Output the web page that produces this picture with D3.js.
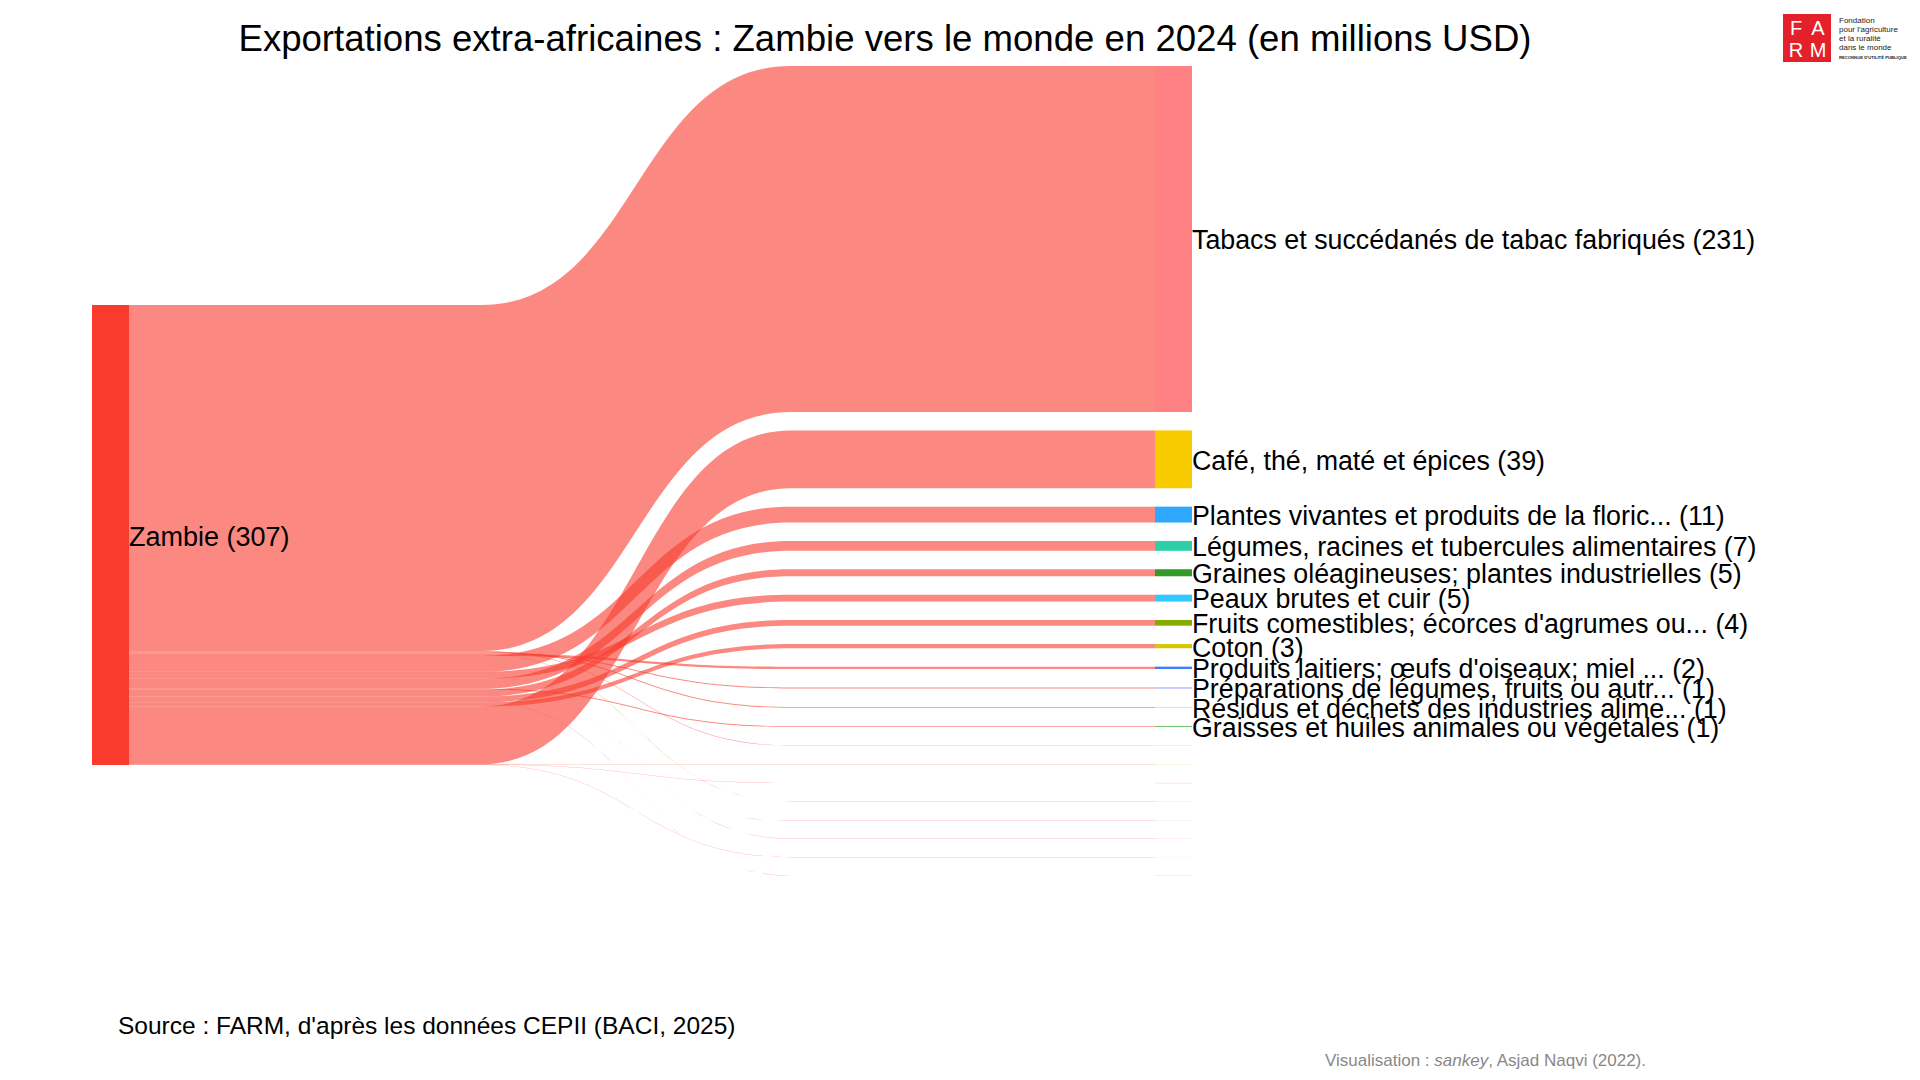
<!DOCTYPE html>
<html lang="fr">
<head>
<meta charset="utf-8">
<title>Exportations extra-africaines : Zambie</title>
<script src="https://cdn.jsdelivr.net/npm/d3@7"></script>
<style>
  html, body { margin: 0; padding: 0; background: #fff; }
  svg { display: block; font-family: "Liberation Sans", Arial, sans-serif; }
</style>
</head>
<body>
<svg id="chart"></svg>
<script>
// Données (millions USD)
const sourceName = 'Zambie';

const targetNames = [
  'Tabacs et succédanés de tabac fabriqués',
  'Café, thé, maté et épices',
  'Plantes vivantes et produits de la floric...',
  'Légumes, racines et tubercules alimentaires',
  'Graines oléagineuses; plantes industrielles',
  'Peaux brutes et cuir',
  "Fruits comestibles; écorces d'agrumes ou...",
  'Coton',
  "Produits laitiers; œufs d'oiseaux; miel ...",
  'Préparations de légumes, fruits ou autr...',
  'Résidus et déchets des industries alime...',
  'Graisses et huiles animales ou végétales',
  'Sucres et sucreries',
  'Boissons, liquides alcooliques et vinaigres',
  'Cacao et ses préparations',
  'Préparations alimentaires diverses',
  'Animaux vivants',
  'Matières à tresser',
  "Autres produits d'origine animale",
  'Céréales'
];

const targetValues = [
  230.9, 38.6, 10.6, 6.6, 4.7, 4.6, 3.8, 2.8, 1.6, 0.7, 0.6, 0.55,
  0.25, 0.2, 0.15, 0.12, 0.08, 0.05, 0.04, 0.03
];

const targetColors = [
  '#FF8183', '#F8CB00', '#2EA9FF', '#2ECFA6', '#339A2A', '#2ECAFF',
  '#84AC00', '#D6C800', '#3D7EFF', '#A0A0FF', '#FFC2E6', '#4CB050',
  '#B8DAFF', '#D8E890', '#F4A296', '#FFD6A6', '#D6E4FF', '#FFCCDD',
  '#EEEEEE', '#FFCC88'
];

const sourceColor = '#F93B2D';

// Mise en page
const W = 1920, H = 1080;
const nodeW = 37;
const xLeft = 92;
const xRight = 1155;
const rightTop = 66;
const leftTop = 305;
const nodePad = 18.4;
const curveHalf = 155;

const total = d3.sum(targetValues);
const hScale = d3.scaleLinear().domain([0, total]).range([0, 460]);

const svg = d3.select('#chart')
  .attr('width', W)
  .attr('height', H)
  .attr('viewBox', `0 0 ${W} ${H}`);

// Noeuds de droite (ordre décroissant)
const targets = targetNames.map((name, i) => ({
  name, value: targetValues[i], color: targetColors[i]
}));
let yc = rightTop;
targets.forEach(t => {
  t.y0 = yc;
  t.y1 = yc + hScale(t.value);
  yc = t.y1 + nodePad;
});

// Ordre des flux au départ : ordre alphabétique inverse
const leftOrder = targets.slice().sort((a, b) => (a.name < b.name ? 1 : -1));
let ys = leftTop;
leftOrder.forEach(t => {
  t.sy0 = ys;
  t.sy1 = ys + hScale(t.value);
  ys = t.sy1;
});
const leftBottom = ys;

// Flux
const x0 = xLeft + nodeW;
const x1 = xRight;
const xm = (x0 + x1) / 2 - 6;
const xa = xm - curveHalf;
const xb = xm + curveHalf;

function linkPath(t) {
  const p = d3.path();
  p.moveTo(x0, t.sy0);
  p.lineTo(xa, t.sy0);
  p.bezierCurveTo(xm, t.sy0, xm, t.y0, xb, t.y0);
  p.lineTo(x1, t.y0);
  p.lineTo(x1, t.y1);
  p.lineTo(xb, t.y1);
  p.bezierCurveTo(xm, t.y1, xm, t.sy1, xa, t.sy1);
  p.lineTo(x0, t.sy1);
  p.closePath();
  return p.toString();
}

svg.append('g')
  .selectAll('path')
  .data(leftOrder)
  .join('path')
  .attr('d', linkPath)
  .attr('fill', sourceColor)
  .attr('fill-opacity', 0.6)
  .attr('stroke', 'none');

// Noeud source
svg.append('rect')
  .attr('x', xLeft)
  .attr('y', leftTop)
  .attr('width', nodeW)
  .attr('height', leftBottom - leftTop)
  .attr('fill', sourceColor);

svg.append('text')
  .attr('x', xLeft + nodeW)
  .attr('y', (leftTop + leftBottom) / 2 + 2)
  .attr('dy', '0.35em')
  .attr('font-size', 27)
  .attr('fill', '#000')
  .text(`${sourceName} (${d3.format('.0f')(total)})`);

// Noeuds cibles
svg.append('g')
  .selectAll('rect')
  .data(targets)
  .join('rect')
  .attr('x', xRight)
  .attr('y', d => d.y0)
  .attr('width', nodeW)
  .attr('height', d => Math.max(d.y1 - d.y0, 0.3))
  .attr('fill', d => d.color);

svg.append('g')
  .selectAll('text')
  .data(targets.filter(d => Math.round(d.value) >= 1))
  .join('text')
  .attr('x', xRight + nodeW)
  .attr('y', d => (d.y0 + d.y1) / 2 + 1)
  .attr('dy', '0.35em')
  .attr('font-size', 26.8)
  .attr('fill', '#000')
  .text(d => `${d.name} (${d3.format('.0f')(d.value)})`);

// Titre
svg.append('text')
  .attr('x', 885)
  .attr('y', 38)
  .attr('dy', '0.35em')
  .attr('text-anchor', 'middle')
  .attr('font-size', 36.6)
  .attr('fill', '#000')
  .text('Exportations extra-africaines : Zambie vers le monde en 2024 (en millions USD)');

// Source
svg.append('text')
  .attr('x', 118)
  .attr('y', 1025)
  .attr('dy', '0.35em')
  .attr('font-size', 24.5)
  .attr('fill', '#000')
  .text("Source : FARM, d'après les données CEPII (BACI, 2025)");

const credit = svg.append('text')
  .attr('x', 1325)
  .attr('y', 1060)
  .attr('dy', '0.35em')
  .attr('font-size', 17)
  .attr('fill', '#888');
credit.append('tspan').text('Visualisation : ');
credit.append('tspan').attr('font-style', 'italic').text('sankey');
credit.append('tspan').text(', Asjad Naqvi (2022).');

// Logo FARM
const logo = svg.append('g').attr('transform', 'translate(1783,14)');
logo.append('rect')
  .attr('width', 48)
  .attr('height', 48)
  .attr('fill', '#E4202A');
[['F', 13, 21], ['A', 35, 21], ['R', 13, 43], ['M', 35, 43]].forEach(([c, x, y]) => {
  logo.append('text')
    .attr('x', x)
    .attr('y', y)
    .attr('text-anchor', 'middle')
    .attr('font-size', 20)
    .attr('fill', '#fff')
    .text(c);
});
const logoLines = ['Fondation', "pour l'agriculture", 'et la ruralité', 'dans le monde'];
logoLines.forEach((s, i) => {
  logo.append('text')
    .attr('x', 56)
    .attr('y', 9 + i * 9)
    .attr('font-size', 8)
    .attr('fill', '#222')
    .text(s);
});
logo.append('text')
  .attr('x', 56)
  .attr('y', 45)
  .attr('font-size', 4.2)
  .attr('font-weight', 'bold')
  .attr('fill', '#222')
  .text("RECONNUE D'UTILITÉ PUBLIQUE");
</script>
</body>
</html>
